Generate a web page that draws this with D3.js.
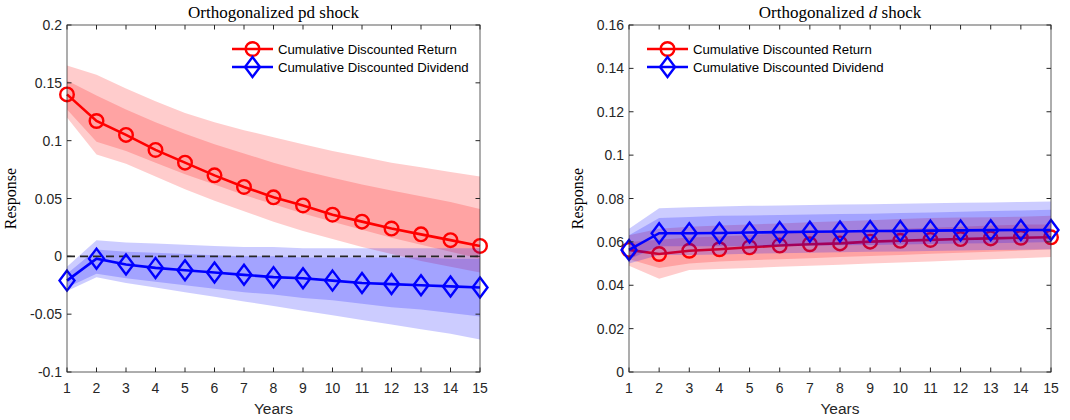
<!DOCTYPE html>
<html>
<head>
<meta charset="utf-8">
<script src="https://cdn.jsdelivr.net/npm/d3@7"></script>
<style>
  html, body { margin: 0; padding: 0; background: #fff; }
  svg { display: block; }
</style>
</head>
<body>
<svg id="chart" width="1070" height="420"></svg>
<script>
// Horizon in years
const years = [1,2,3,4,5,6,7,8,9,10,11,12,13,14,15];

// Panel 1: orthogonalized pd shock
const pdReturn      = [0.140,0.117,0.105,0.092,0.081,0.070,0.060,0.051,0.044,0.036,0.030,0.024,0.019,0.014,0.009];
const pdReturnHi90  = [0.165,0.157,0.145,0.134,0.124,0.116,0.109,0.103,0.097,0.091,0.086,0.081,0.077,0.073,0.069];
const pdReturnHi68  = [0.152,0.139,0.127,0.116,0.106,0.097,0.089,0.081,0.074,0.068,0.062,0.057,0.052,0.047,0.041];
const pdReturnLo68  = [0.127,0.099,0.091,0.081,0.071,0.062,0.053,0.045,0.037,0.030,0.023,0.016,0.010,0.004,-0.002];
const pdReturnLo90  = [0.120,0.088,0.080,0.069,0.058,0.048,0.039,0.030,0.022,0.015,0.008,0.002,-0.004,-0.009,-0.014];

const pdDividend     = [-0.021,-0.002,-0.007,-0.010,-0.012,-0.014,-0.016,-0.018,-0.019,-0.021,-0.023,-0.024,-0.025,-0.026,-0.027];
const pdDividendHi90 = [-0.009,0.014,0.012,0.011,0.010,0.009,0.008,0.008,0.007,0.007,0.007,0.007,0.007,0.007,0.007];
const pdDividendHi68 = [-0.015,0.006,0.004,0.003,0.002,0.001,0.000,0.000,-0.001,-0.001,-0.001,-0.001,-0.001,-0.002,-0.002];
const pdDividendLo68 = [-0.027,-0.015,-0.019,-0.022,-0.025,-0.028,-0.031,-0.033,-0.036,-0.038,-0.041,-0.044,-0.046,-0.049,-0.052];
const pdDividendLo90 = [-0.030,-0.018,-0.023,-0.027,-0.031,-0.035,-0.039,-0.043,-0.047,-0.051,-0.055,-0.059,-0.063,-0.067,-0.072];

// Panel 2: orthogonalized d shock
const dReturn      = [0.0563,0.0544,0.0559,0.0566,0.0575,0.0583,0.0589,0.0593,0.0601,0.0605,0.0609,0.0613,0.0616,0.0619,0.0621];
const dReturnHi90  = [0.063,0.066,0.067,0.0675,0.068,0.0685,0.069,0.0695,0.070,0.0705,0.071,0.0712,0.0714,0.0716,0.072];
const dReturnHi68  = [0.060,0.061,0.062,0.0625,0.063,0.064,0.0645,0.065,0.0655,0.066,0.0665,0.067,0.0675,0.068,0.068];
const dReturnLo68  = [0.052,0.048,0.050,0.051,0.0515,0.052,0.0525,0.053,0.0535,0.054,0.0545,0.055,0.0555,0.056,0.0565];
const dReturnLo90  = [0.049,0.043,0.047,0.0475,0.048,0.0485,0.049,0.0495,0.050,0.0505,0.051,0.0515,0.052,0.0525,0.053];

const dDividend     = [0.0563,0.0640,0.0640,0.0641,0.0643,0.0645,0.0647,0.0648,0.0650,0.0650,0.0652,0.0653,0.0654,0.0655,0.0655];
const dDividendHi90 = [0.066,0.0755,0.076,0.0763,0.0766,0.0768,0.077,0.0772,0.0774,0.0776,0.0778,0.078,0.0782,0.0784,0.0786];
const dDividendHi68 = [0.063,0.071,0.0715,0.072,0.0722,0.0724,0.0726,0.0728,0.073,0.0733,0.0736,0.0739,0.0742,0.0745,0.0748];
const dDividendLo68 = [0.052,0.058,0.058,0.058,0.058,0.058,0.0582,0.0584,0.0586,0.0588,0.059,0.0592,0.0594,0.0596,0.060];
const dDividendLo90 = [0.050,0.054,0.054,0.0542,0.0545,0.0548,0.055,0.0552,0.0554,0.0556,0.0558,0.056,0.0562,0.0564,0.0566];

// Tick values and labels
const xTicks = years;
const pdYTicks = [-0.1,-0.05,0,0.05,0.1,0.15,0.2];
const pdYLabels = ["-0.1","-0.05","0","0.05","0.1","0.15","0.2"];
const dYTicks = [0,0.02,0.04,0.06,0.08,0.1,0.12,0.14,0.16];
const dYLabels = ["0","0.02","0.04","0.06","0.08","0.1","0.12","0.14","0.16"];

const seriesNames = ["Cumulative Discounted Return","Cumulative Discounted Dividend"];

const RED = "#ff0000", BLUE = "#0000ff";
const AXIS = "#262626";
const SANS = "'Liberation Sans', Arial, sans-serif";
const SERIF = "'Liberation Serif', 'Times New Roman', serif";
const svg = d3.select("#chart");

function drawPanel(cfg) {
  const x = d3.scaleLinear().domain([1,15]).range([cfg.left, cfg.right]);
  const y = d3.scaleLinear().domain(cfg.yDomain).range([cfg.bottom, cfg.top]);
  const g = svg.append("g");

  const area = (lo, hi) => d3.area()
    .x((d,i) => x(years[i]))
    .y0((d,i) => y(lo[i]))
    .y1((d,i) => y(hi[i]))(years);
  const line = (vals) => d3.line().x((d,i) => x(years[i])).y((d,i) => y(vals[i]))(years);
  const diamond = "M0,-10L7.5,0L0,10L-7.5,0Z";

  // Return bands and path
  g.append("path").attr("d", area(cfg.r.lo90, cfg.r.hi90)).attr("fill", RED).attr("fill-opacity", 0.2);
  g.append("path").attr("d", area(cfg.r.lo68, cfg.r.hi68)).attr("fill", RED).attr("fill-opacity", 0.2);
  g.append("path").attr("d", line(cfg.r.mid)).attr("fill", "none").attr("stroke", RED).attr("stroke-width", 2.6);
  g.selectAll(null).data(cfg.r.mid).enter().append("circle")
    .attr("cx", (d,i) => x(years[i])).attr("cy", d => y(d)).attr("r", 6.8)
    .attr("fill", "none").attr("stroke", RED).attr("stroke-width", 2.4);

  // Dividend bands
  g.append("path").attr("d", area(cfg.b.lo90, cfg.b.hi90)).attr("fill", BLUE).attr("fill-opacity", 0.2);
  g.append("path").attr("d", area(cfg.b.lo68, cfg.b.hi68)).attr("fill", BLUE).attr("fill-opacity", 0.2);

  if (cfg.zeroLine) {
    g.append("line")
      .attr("x1", x(1)).attr("x2", x(15))
      .attr("y1", y(0)).attr("y2", y(0))
      .attr("stroke", "#262626").attr("stroke-width", 1.6)
      .attr("stroke-dasharray", "8,5");
  }

  // Dividend path and markers
  g.append("path").attr("d", line(cfg.b.mid)).attr("fill", "none").attr("stroke", BLUE).attr("stroke-width", 2.6);
  g.selectAll(null).data(cfg.b.mid).enter().append("path")
    .attr("d", diamond)
    .attr("transform", (d,i) => `translate(${x(years[i])},${y(d)})`)
    .attr("fill", "none").attr("stroke", BLUE).attr("stroke-width", 2.4);

  // Box with inward ticks on all sides
  g.append("rect").attr("x", cfg.left).attr("y", cfg.top)
    .attr("width", cfg.right - cfg.left).attr("height", cfg.bottom - cfg.top)
    .attr("fill", "none").attr("stroke", AXIS).attr("stroke-width", 1).attr("stroke-opacity", 0.75);

  const tl = 4.5;
  const ax = svg.append("g").attr("font-family", SANS).attr("font-size", 14).attr("fill", AXIS);
  xTicks.forEach(t => {
    const px = x(t);
    ax.append("line").attr("x1", px).attr("x2", px).attr("y1", cfg.bottom).attr("y2", cfg.bottom - tl).attr("stroke", AXIS);
    ax.append("line").attr("x1", px).attr("x2", px).attr("y1", cfg.top).attr("y2", cfg.top + tl).attr("stroke", AXIS);
    ax.append("text").attr("x", px).attr("y", cfg.bottom + 21).attr("text-anchor", "middle").text(t);
  });
  cfg.yTicks.forEach((t, i) => {
    const py = y(t);
    ax.append("line").attr("x1", cfg.left).attr("x2", cfg.left + tl).attr("y1", py).attr("y2", py).attr("stroke", AXIS);
    ax.append("line").attr("x1", cfg.right).attr("x2", cfg.right - tl).attr("y1", py).attr("y2", py).attr("stroke", AXIS);
    ax.append("text").attr("x", cfg.left - 5).attr("y", py + 5).attr("text-anchor", "end").text(cfg.yLabels[i]);
  });

  // Axis titles
  svg.append("text").attr("x", (cfg.left + cfg.right) / 2).attr("y", 414)
    .attr("text-anchor", "middle").attr("font-family", SANS)
    .attr("font-size", 15.5).attr("fill", AXIS).text("Years");
  svg.append("text").attr("transform", `translate(${cfg.yLabelX},${(cfg.top + cfg.bottom) / 2}) rotate(-90)`)
    .attr("text-anchor", "middle").attr("font-family", SERIF)
    .attr("font-size", 16).attr("fill", "#000").text("Response");

  const title = svg.append("text").attr("x", (cfg.left + cfg.right) / 2).attr("y", 18)
    .attr("text-anchor", "middle").attr("font-family", SERIF)
    .attr("font-size", 17).attr("fill", "#000");
  cfg.title.forEach(part => {
    title.append("tspan").attr("font-style", part.italic ? "italic" : "normal").text(part.text);
  });

  // Legend
  const lg = svg.append("g").attr("font-family", SANS).attr("font-size", 13.2).attr("fill", "#000");
  [[RED, "circle"], [BLUE, "diamond"]].forEach(([col, mk], i) => {
    const ly = 49 + i * 18;
    lg.append("line").attr("x1", cfg.legendX).attr("x2", cfg.legendX + 41).attr("y1", ly).attr("y2", ly)
      .attr("stroke", col).attr("stroke-width", 2.6);
    const cx = cfg.legendX + 20.5;
    if (mk === "circle") {
      lg.append("circle").attr("cx", cx).attr("cy", ly).attr("r", 6.8).attr("fill", "none").attr("stroke", col).attr("stroke-width", 2.4);
    } else {
      lg.append("path").attr("d", diamond).attr("transform", `translate(${cx},${ly})`).attr("fill", "none").attr("stroke", col).attr("stroke-width", 2.4);
    }
    lg.append("text").attr("x", cfg.legendX + 46).attr("y", ly + 4.5).text(seriesNames[i]);
  });
}

drawPanel({
  left: 67, right: 480, top: 25, bottom: 372,
  yDomain: [-0.1, 0.2], yTicks: pdYTicks, yLabels: pdYLabels,
  zeroLine: true, yLabelX: 16,
  title: [{text: "Orthogonalized pd shock"}],
  legendX: 232,
  r: {mid: pdReturn, hi90: pdReturnHi90, hi68: pdReturnHi68, lo68: pdReturnLo68, lo90: pdReturnLo90},
  b: {mid: pdDividend, hi90: pdDividendHi90, hi68: pdDividendHi68, lo68: pdDividendLo68, lo90: pdDividendLo90}
});

drawPanel({
  left: 629, right: 1051, top: 25, bottom: 372,
  yDomain: [0, 0.16], yTicks: dYTicks, yLabels: dYLabels,
  zeroLine: false, yLabelX: 583,
  title: [{text: "Orthogonalized "}, {text: "d", italic: true}, {text: " shock"}],
  legendX: 647,
  r: {mid: dReturn, hi90: dReturnHi90, hi68: dReturnHi68, lo68: dReturnLo68, lo90: dReturnLo90},
  b: {mid: dDividend, hi90: dDividendHi90, hi68: dDividendHi68, lo68: dDividendLo68, lo90: dDividendLo90}
});
</script>
</body>
</html>
